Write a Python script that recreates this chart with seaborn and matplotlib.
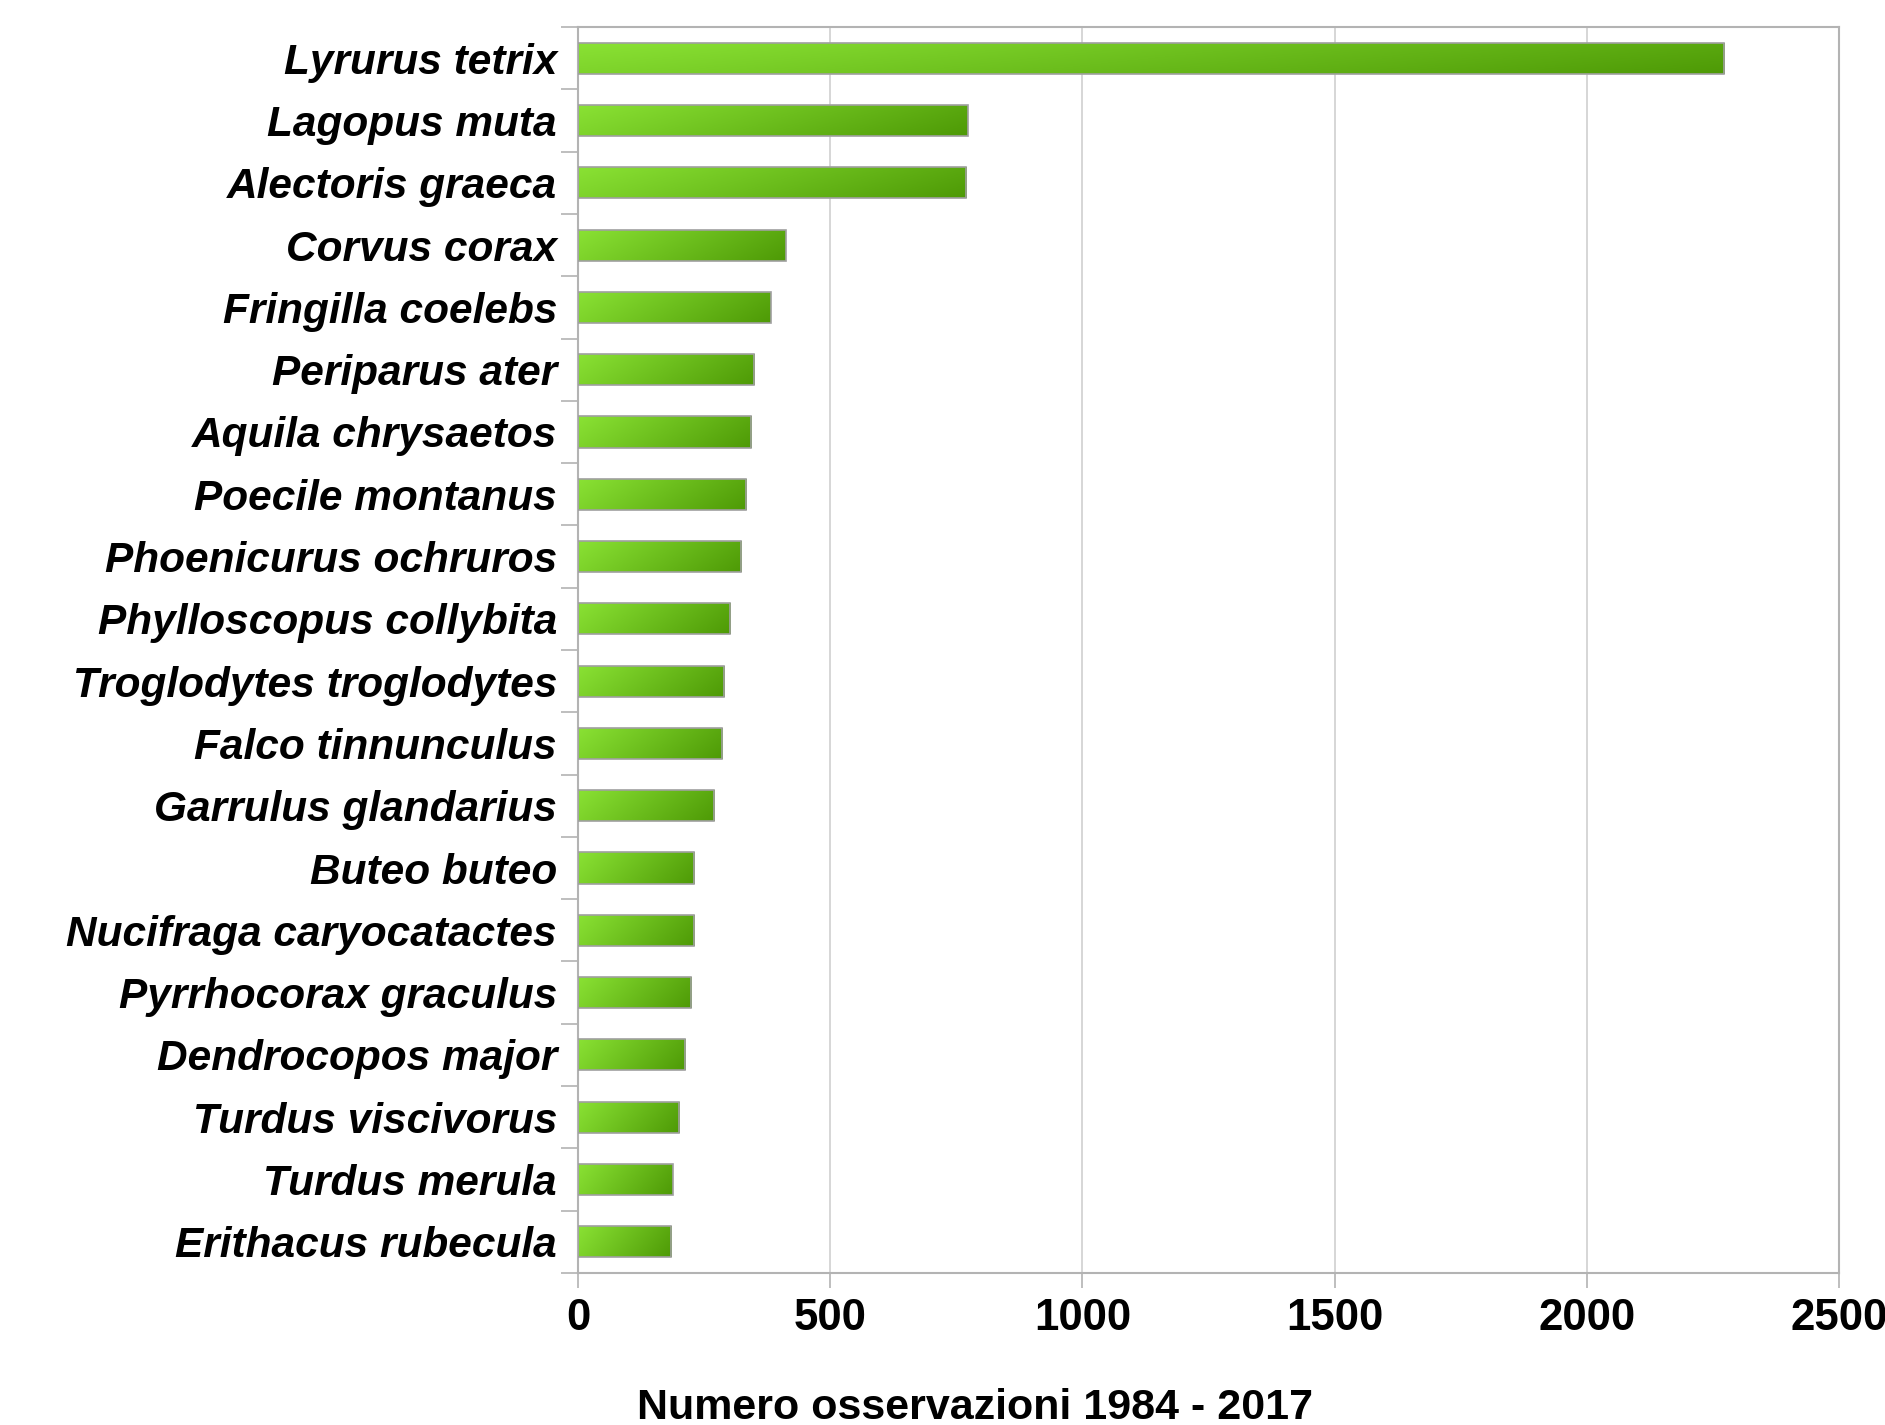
import matplotlib
matplotlib.use("Agg")
import matplotlib.pyplot as plt
import numpy as np
import pandas as pd
import seaborn as sns
from matplotlib.colors import LinearSegmentedColormap

species = [
    "Lyrurus tetrix", "Lagopus muta", "Alectoris graeca", "Corvus corax",
    "Fringilla coelebs", "Periparus ater", "Aquila chrysaetos",
    "Poecile montanus", "Phoenicurus ochruros", "Phylloscopus collybita",
    "Troglodytes troglodytes", "Falco tinnunculus", "Garrulus glandarius",
    "Buteo buteo", "Nucifraga caryocatactes", "Pyrrhocorax graculus",
    "Dendrocopos major", "Turdus viscivorus", "Turdus merula",
    "Erithacus rubecula",
]
observations = [2272, 773, 770, 412, 382, 350, 344, 334, 324, 302,
                290, 286, 270, 231, 230, 225, 213, 201, 188, 185]
x_ticks = [0, 500, 1000, 1500, 2000, 2500]


def main():
    sns.set_style("white")
    plt.rcParams['font.family'] = ['Liberation Sans', 'DejaVu Sans']
    plt.rcParams['text.color'] = 'black'
    plt.rcParams['xtick.labelcolor'] = 'black'
    plt.rcParams['ytick.labelcolor'] = 'black'
    narrow = ['Liberation Sans Narrow', 'Liberation Sans', 'DejaVu Sans']

    df = pd.DataFrame({"species": species, "obs": observations})

    fig = plt.figure(figsize=(18.85, 14.25), dpi=100)
    ax = fig.add_axes([0.3066, 0.1067, 0.669, 0.8743])

    sns.barplot(data=df, x="obs", y="species", orient="h", width=0.5,
                color="#6cbf1c", edgecolor="#a0a0a0", linewidth=1.2,
                ax=ax, zorder=2)

    # diagonal gradient fill for each bar
    cmap = LinearSegmentedColormap.from_list("grn", ["#8ae234", "#4e9a06"])
    u = np.linspace(0, 1, 200)
    v = np.linspace(0, 1, 20)
    uu, vv = np.meshgrid(u, v)
    grad = 0.8 * uu + 0.2 * vv
    for patch in ax.patches:
        x0, y0 = patch.get_x(), patch.get_y()
        w, h = patch.get_width(), patch.get_height()
        im = ax.imshow(grad, cmap=cmap, aspect="auto",
                       extent=[x0, x0 + w, y0 + h, y0], origin="upper",
                       zorder=2.5, interpolation="bilinear")
        im.set_clip_path(patch)
        patch.set_facecolor("none")
        patch.set_zorder(3)

    ax.set_xlim(0, 2500)
    ax.set_ylim(len(species) - 0.5, -0.5)
    ax.set_xticks(x_ticks)
    ax.set_xticklabels([str(t) for t in x_ticks], fontsize=31.5,
                       fontweight="bold", family=narrow, color="black")
    ax.tick_params(axis="x", length=11, width=1.2, color="#b3b3b3", pad=7,
                   direction="out", bottom=True)

    ax.set_yticks(np.arange(-0.5, len(species)), minor=False)
    ax.set_yticklabels([])
    ax.set_yticks(np.arange(len(species)), minor=True)
    ax.set_yticklabels(species, minor=True, fontsize=30.5, fontweight="bold",
                       fontstyle="italic", color="black")
    ax.tick_params(axis="y", which="major", length=12, width=1.2,
                   color="#b3b3b3", direction="out", left=True)
    ax.tick_params(axis="y", which="minor", length=0, pad=15)

    ax.grid(axis="x", color="#d0d0d0", linewidth=1.2, zorder=0)
    ax.set_axisbelow(True)
    for s in ax.spines.values():
        s.set_color("#b3b3b3")
        s.set_linewidth(1.5)

    ax.set_xlabel("")
    ax.set_ylabel("")
    fig.text(0.517, 0.012, "Numero osservazioni 1984 - 2017", ha="center",
             va="center", fontsize=31, fontweight="bold", family=narrow,
             color="black")

    fig.savefig("out.png", dpi=100)


if __name__ == "__main__":
    main()
